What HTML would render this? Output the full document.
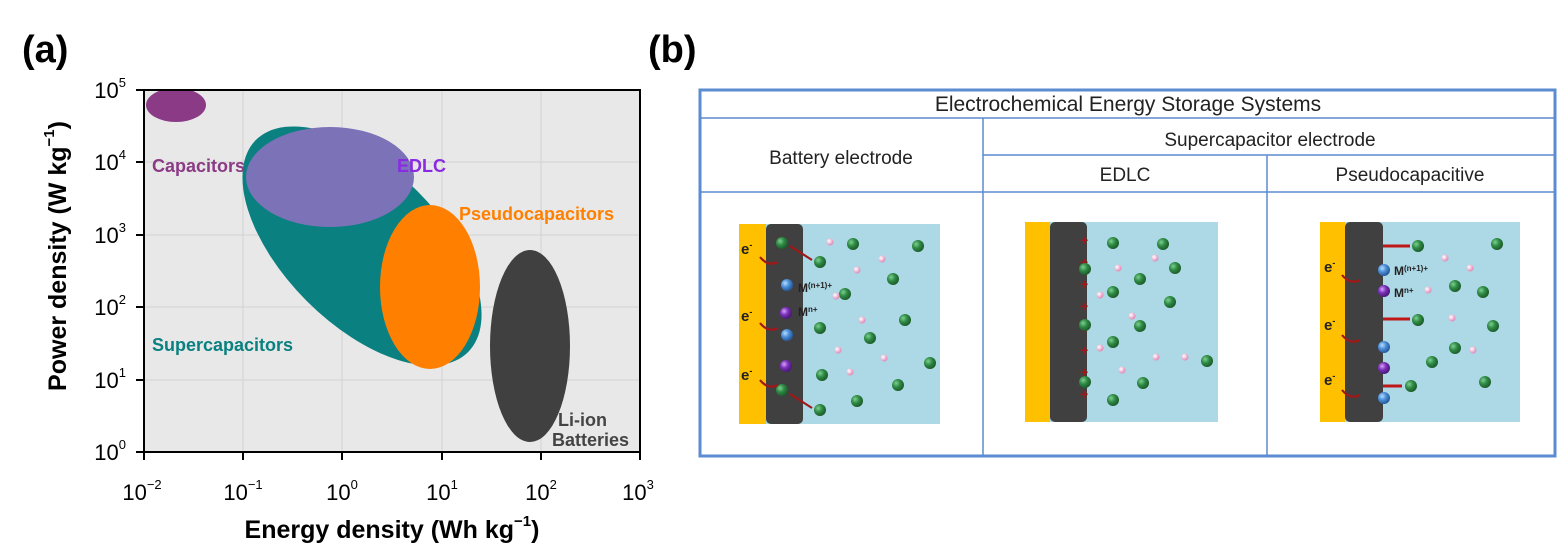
<!DOCTYPE html>
<html><head><meta charset="utf-8"><style>
body{margin:0;background:#fff;width:1560px;height:547px;overflow:hidden;font-family:"Liberation Sans",Arial,sans-serif}
</style></head><body>
<svg width="1560" height="547" viewBox="0 0 1560 547" xmlns="http://www.w3.org/2000/svg" font-family="Liberation Sans, Arial, sans-serif">
<defs>
<radialGradient id="g" cx="35%" cy="35%" r="65%"><stop offset="0" stop-color="#7fcf8f"/><stop offset="0.5" stop-color="#2e8b45"/><stop offset="1" stop-color="#1d5e2c"/></radialGradient>
<radialGradient id="b" cx="35%" cy="35%" r="65%"><stop offset="0" stop-color="#b8dcff"/><stop offset="0.5" stop-color="#4a8fd8"/><stop offset="1" stop-color="#2a5a9a"/></radialGradient>
<radialGradient id="p" cx="35%" cy="35%" r="65%"><stop offset="0" stop-color="#d9a0ff"/><stop offset="0.5" stop-color="#7a30b8"/><stop offset="1" stop-color="#4a1a78"/></radialGradient>
<radialGradient id="k" cx="35%" cy="35%" r="65%"><stop offset="0" stop-color="#fff"/><stop offset="1" stop-color="#e08ab8"/></radialGradient>
<clipPath id="pc"><rect x="144" y="90" width="496" height="362"/></clipPath>
</defs>
<text x="22" y="62" font-size="38" font-weight="bold">(a)</text>
<text x="648" y="62" font-size="38" font-weight="bold">(b)</text>
<rect x="144" y="90" width="496" height="362" fill="#e8e8e8"/>
<g stroke="#d2d2d2" stroke-width="1">
<line x1="243" y1="90" x2="243" y2="452"/><line x1="342" y1="90" x2="342" y2="452"/><line x1="442" y1="90" x2="442" y2="452"/><line x1="541" y1="90" x2="541" y2="452"/>
<line x1="144" y1="162" x2="640" y2="162"/><line x1="144" y1="235" x2="640" y2="235"/><line x1="144" y1="307" x2="640" y2="307"/><line x1="144" y1="380" x2="640" y2="380"/>
</g>
<g clip-path="url(#pc)">
<ellipse cx="176" cy="105" rx="30" ry="17" fill="#8b3a86"/>
<ellipse cx="362" cy="246" rx="150" ry="78" transform="rotate(45 362 246)" fill="#0a8080"/>
<ellipse cx="330" cy="177" rx="84" ry="50" fill="#7b72b8"/>
<ellipse cx="430" cy="287" rx="50" ry="82" fill="#ff8000"/>
<ellipse cx="530" cy="346" rx="40" ry="96" fill="#404040"/>
</g>
<rect x="144" y="90" width="496" height="362" fill="none" stroke="#000" stroke-width="2"/>
<g stroke="#000" stroke-width="2">
<line x1="144" y1="452" x2="144" y2="460"/><line x1="243" y1="452" x2="243" y2="460"/><line x1="342" y1="452" x2="342" y2="460"/><line x1="442" y1="452" x2="442" y2="460"/><line x1="541" y1="452" x2="541" y2="460"/><line x1="640" y1="452" x2="640" y2="460"/>
<line x1="136" y1="90" x2="144" y2="90"/><line x1="136" y1="162" x2="144" y2="162"/><line x1="136" y1="235" x2="144" y2="235"/><line x1="136" y1="307" x2="144" y2="307"/><line x1="136" y1="380" x2="144" y2="380"/><line x1="136" y1="452" x2="144" y2="452"/>
</g>
<text x="152" y="172" font-size="18" font-weight="bold" fill="#8b3a86">Capacitors</text>
<text x="397" y="172" font-size="18" font-weight="bold" fill="#8a2be2">EDLC</text>
<text x="459" y="220" font-size="18" font-weight="bold" fill="#ff8000">Pseudocapacitors</text>
<text x="152" y="351" font-size="18" font-weight="bold" fill="#0a8080">Supercapacitors</text>
<text x="558" y="426" font-size="18" font-weight="bold" fill="#444">Li-ion</text>
<text x="552" y="446" font-size="18" font-weight="bold" fill="#444">Batteries</text>
<g font-size="22" text-anchor="middle">
<text x="142" y="500">10<tspan font-size="13" dy="-11">−2</tspan></text>
<text x="243" y="500">10<tspan font-size="13" dy="-11">−1</tspan></text>
<text x="342" y="500">10<tspan font-size="13" dy="-11">0</tspan></text>
<text x="442" y="500">10<tspan font-size="13" dy="-11">1</tspan></text>
<text x="541" y="500">10<tspan font-size="13" dy="-11">2</tspan></text>
<text x="638" y="500">10<tspan font-size="13" dy="-11">3</tspan></text>
</g>
<g font-size="22" text-anchor="end">
<text x="126" y="98">10<tspan font-size="13" dy="-11">5</tspan></text>
<text x="126" y="170">10<tspan font-size="13" dy="-11">4</tspan></text>
<text x="126" y="243">10<tspan font-size="13" dy="-11">3</tspan></text>
<text x="126" y="315">10<tspan font-size="13" dy="-11">2</tspan></text>
<text x="126" y="388">10<tspan font-size="13" dy="-11">1</tspan></text>
<text x="126" y="460">10<tspan font-size="13" dy="-11">0</tspan></text>
</g>
<text x="392" y="538" font-size="25" font-weight="bold" text-anchor="middle">Energy density (Wh kg<tspan font-size="15" dy="-12">−1</tspan><tspan dy="12">)</tspan></text>
<text transform="translate(66 256) rotate(-90)" font-size="25" font-weight="bold" text-anchor="middle">Power density (W kg<tspan font-size="15" dy="-12">−1</tspan><tspan dy="12">)</tspan></text>
<g stroke="#5b8bd0" fill="none">
<rect x="700" y="90" width="855" height="366" stroke-width="3"/>
<line x1="700" y1="118" x2="1555" y2="118" stroke-width="1.5"/>
<line x1="983" y1="155" x2="1555" y2="155" stroke-width="1.5"/>
<line x1="700" y1="192" x2="1555" y2="192" stroke-width="1.5"/>
<line x1="983" y1="118" x2="983" y2="456" stroke-width="1.5"/>
<line x1="1267" y1="155" x2="1267" y2="456" stroke-width="1.5"/>
</g>
<g font-size="19" text-anchor="middle" fill="#222">
<text x="1128" y="111" font-size="21">Electrochemical Energy Storage Systems</text>
<text x="1270" y="146">Supercapacitor electrode</text>
<text x="841" y="164">Battery electrode</text>
<text x="1125" y="181">EDLC</text>
<text x="1410" y="181">Pseudocapacitive</text>
</g>
<rect x="739" y="224" width="201" height="200" fill="#add8e6"/>
<rect x="739" y="224" width="27" height="200" fill="#ffc000"/>
<rect x="766" y="224" width="37" height="200" rx="5" fill="#404040"/>
<g fill="url(#g)"><circle cx="782" cy="243" r="6"/><circle cx="782" cy="390" r="6"/>
<circle cx="820" cy="262" r="6"/><circle cx="853" cy="244" r="6"/><circle cx="918" cy="246" r="6"/><circle cx="893" cy="279" r="6"/><circle cx="845" cy="294" r="6"/><circle cx="820" cy="328" r="6"/><circle cx="905" cy="320" r="6"/><circle cx="870" cy="338" r="6"/><circle cx="930" cy="363" r="6"/><circle cx="822" cy="375" r="6"/><circle cx="898" cy="385" r="6"/><circle cx="857" cy="401" r="6"/><circle cx="820" cy="410" r="6"/></g>
<g fill="url(#b)"><circle cx="787" cy="285" r="6"/><circle cx="787" cy="335" r="6"/></g>
<g fill="url(#p)"><circle cx="786" cy="313" r="6"/><circle cx="786" cy="366" r="6"/></g>
<g fill="url(#k)"><circle cx="830" cy="242" r="3.5"/><circle cx="882" cy="259" r="3.5"/><circle cx="857" cy="270" r="3.5"/><circle cx="836" cy="296" r="3.5"/><circle cx="862" cy="320" r="3.5"/><circle cx="838" cy="350" r="3.5"/><circle cx="884" cy="358" r="3.5"/><circle cx="850" cy="372" r="3.5"/></g>
<g stroke="#a01818" stroke-width="2.2" fill="none"><path d="M760 257 q8 10 18 5"/><path d="M760 323 q8 10 18 5"/><path d="M760 380 q8 10 18 5"/><path d="M790 246 l22 14"/><path d="M790 394 l22 14"/></g>
<g font-size="15" font-weight="bold" fill="#222"><text x="741" y="254">e<tspan font-size="9" dy="-6">-</tspan></text><text x="741" y="321">e<tspan font-size="9" dy="-6">-</tspan></text><text x="741" y="380">e<tspan font-size="9" dy="-6">-</tspan></text>
<text x="798" y="292" font-size="12">M<tspan font-size="8" dy="-4">(n+1)+</tspan></text><text x="798" y="316" font-size="12">M<tspan font-size="8" dy="-4">n+</tspan></text></g>
<rect x="1025" y="222" width="193" height="200" fill="#add8e6"/>
<rect x="1025" y="222" width="25" height="200" fill="#ffc000"/>
<rect x="1050" y="222" width="37" height="200" rx="5" fill="#404040"/>
<g fill="#a01818" font-weight="bold" font-size="14"><text x="1080" y="245">+</text><text x="1080" y="267">+</text><text x="1080" y="289">+</text><text x="1080" y="311">+</text><text x="1080" y="333">+</text><text x="1080" y="355">+</text><text x="1080" y="377">+</text><text x="1080" y="399">+</text></g>
<g fill="url(#g)"><circle cx="1113" cy="243" r="6"/><circle cx="1163" cy="244" r="6"/><circle cx="1085" cy="269" r="6"/><circle cx="1140" cy="279" r="6"/><circle cx="1113" cy="292" r="6"/><circle cx="1170" cy="302" r="6"/><circle cx="1085" cy="325" r="6"/><circle cx="1140" cy="326" r="6"/><circle cx="1113" cy="342" r="6"/><circle cx="1207" cy="361" r="6"/><circle cx="1085" cy="382" r="6"/><circle cx="1143" cy="383" r="6"/><circle cx="1113" cy="400" r="6"/><circle cx="1175" cy="268" r="6"/></g>
<g fill="url(#k)"><circle cx="1155" cy="258" r="3.5"/><circle cx="1118" cy="268" r="3.5"/><circle cx="1100" cy="295" r="3.5"/><circle cx="1132" cy="316" r="3.5"/><circle cx="1100" cy="348" r="3.5"/><circle cx="1156" cy="357" r="3.5"/><circle cx="1122" cy="370" r="3.5"/><circle cx="1185" cy="357" r="3.5"/></g>
<rect x="1320" y="222" width="200" height="200" fill="#add8e6"/>
<rect x="1320" y="222" width="25" height="200" fill="#ffc000"/>
<rect x="1345" y="222" width="38" height="200" rx="5" fill="#404040"/>
<g stroke="#c01818" stroke-width="3"><line x1="1383" y1="246" x2="1410" y2="246"/><line x1="1383" y1="319" x2="1410" y2="319"/><line x1="1383" y1="386" x2="1402" y2="386"/></g>
<g fill="url(#g)"><circle cx="1418" cy="246" r="6"/><circle cx="1418" cy="320" r="6"/><circle cx="1411" cy="386" r="6"/><circle cx="1497" cy="244" r="6"/><circle cx="1455" cy="286" r="6"/><circle cx="1483" cy="292" r="6"/><circle cx="1493" cy="326" r="6"/><circle cx="1455" cy="348" r="6"/><circle cx="1432" cy="362" r="6"/><circle cx="1485" cy="382" r="6"/></g>
<g fill="url(#b)"><circle cx="1384" cy="270" r="6"/><circle cx="1384" cy="347" r="6"/><circle cx="1384" cy="398" r="6"/></g>
<g fill="url(#p)"><circle cx="1384" cy="291" r="6"/><circle cx="1384" cy="368" r="6"/></g>
<g fill="url(#k)"><circle cx="1445" cy="258" r="3.5"/><circle cx="1470" cy="268" r="3.5"/><circle cx="1428" cy="290" r="3.5"/><circle cx="1452" cy="318" r="3.5"/><circle cx="1473" cy="350" r="3.5"/></g>
<g stroke="#a01818" stroke-width="2.2" fill="none"><path d="M1342 275 q8 10 18 5"/><path d="M1342 335 q8 10 18 5"/><path d="M1342 390 q8 10 18 5"/></g>
<g font-size="15" font-weight="bold" fill="#222"><text x="1324" y="272">e<tspan font-size="9" dy="-6">-</tspan></text><text x="1324" y="330">e<tspan font-size="9" dy="-6">-</tspan></text><text x="1324" y="385">e<tspan font-size="9" dy="-6">-</tspan></text>
<text x="1394" y="275" font-size="12">M<tspan font-size="8" dy="-4">(n+1)+</tspan></text><text x="1394" y="297" font-size="12">M<tspan font-size="8" dy="-4">n+</tspan></text></g>
</svg>
</body></html>
